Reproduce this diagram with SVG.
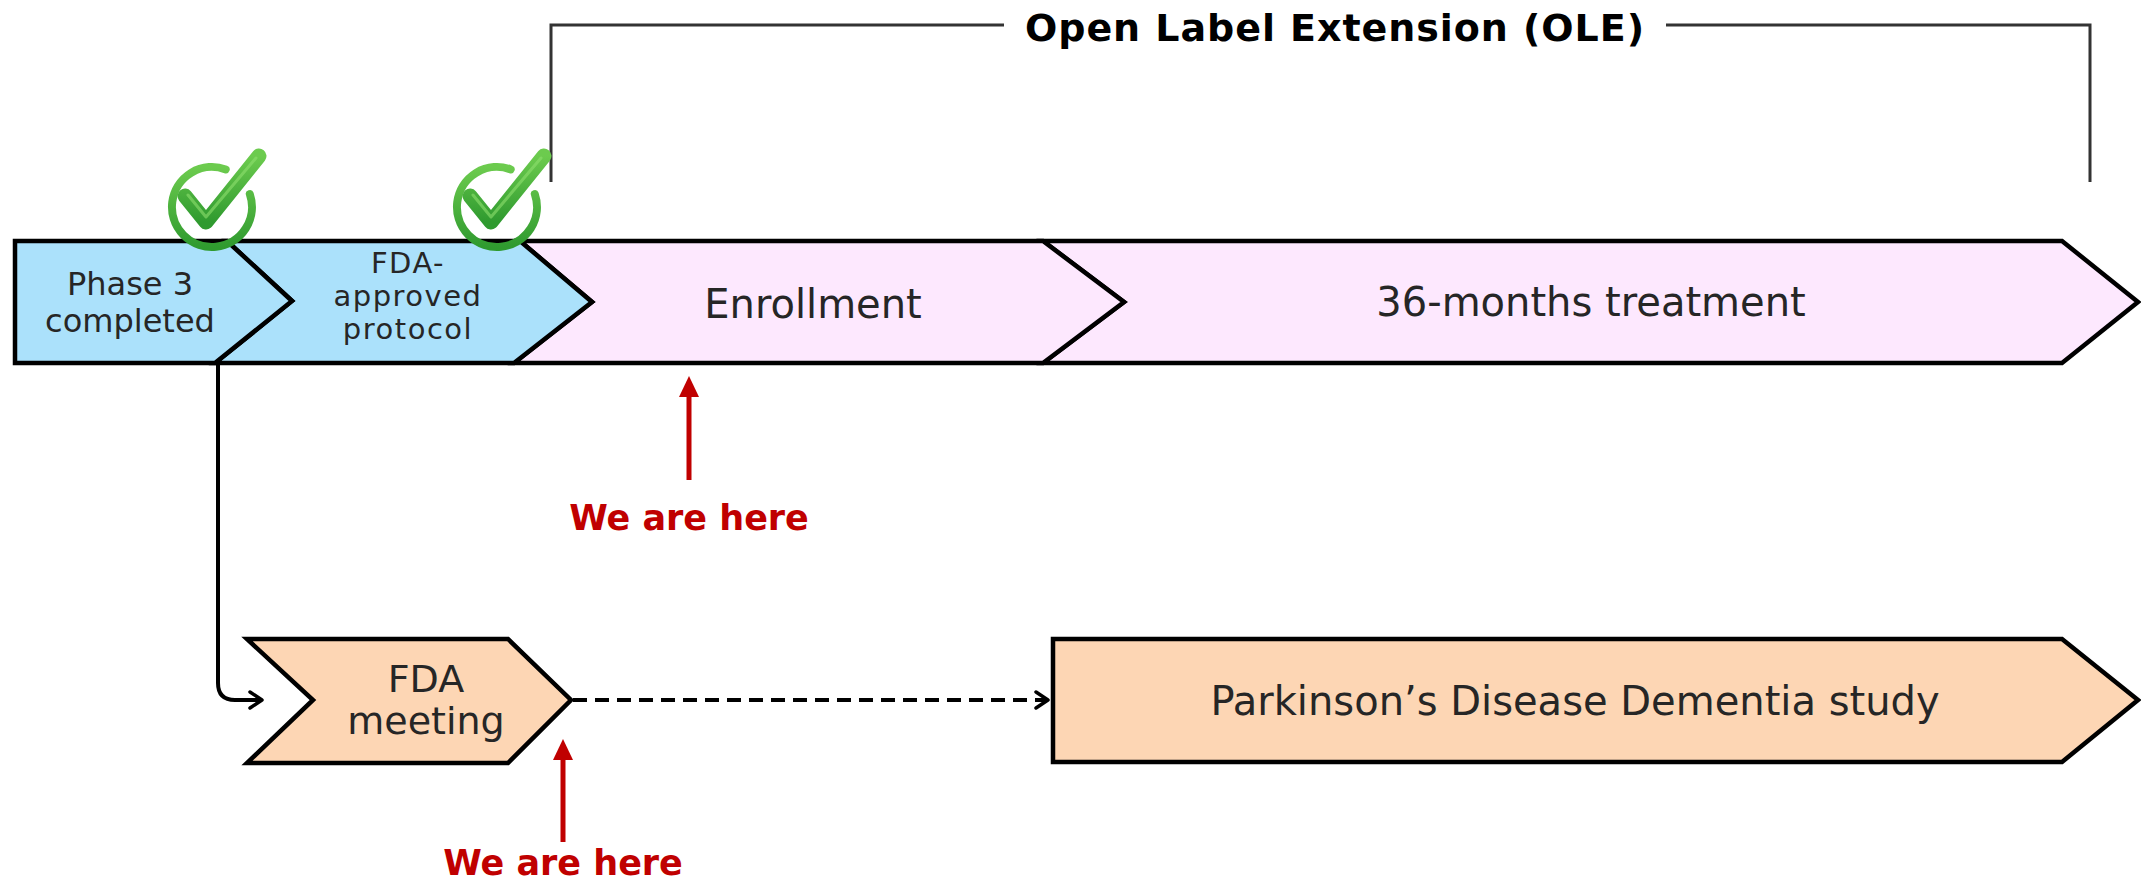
<svg xmlns="http://www.w3.org/2000/svg" width="2141" height="881" viewBox="0 0 2141 881">
  <style>
    .box { stroke: #000; stroke-width: 4.5; stroke-linejoin: miter; }
    .blue { fill: #ABE1FB; }
    .pink { fill: #FDE8FE; }
    .peach { fill: #FDD6B4; }
    .lbl { font-family: "DejaVu Sans", "Open Sans", sans-serif; fill: #262626; text-anchor: middle; }
    .here { font-family: "DejaVu Sans", "Liberation Sans", sans-serif; font-weight: bold; fill: #C00000; font-size: 35px; text-anchor: middle; }
    .bracket { fill: none; stroke: #333; stroke-width: 3; }
    .conn { fill: none; stroke: #000; stroke-width: 4; }
    .red { stroke: #C00000; stroke-width: 5; fill: none; }
  </style>
  <defs>
    <linearGradient id="gck" x1="0" y1="0" x2="0" y2="1">
      <stop offset="0" stop-color="#6CCB4E"/>
      <stop offset="1" stop-color="#2F9A2F"/>
    </linearGradient>
    <marker id="openArrow" viewBox="0 0 16 20" refX="14" refY="10" markerWidth="16" markerHeight="20" markerUnits="userSpaceOnUse" orient="auto">
      <path d="M2,2 L14,10 L2,18" fill="none" stroke="#000" stroke-width="3.5" stroke-linejoin="round" stroke-linecap="round"/>
    </marker>
    <g id="check">
      <path d="M13.7,-37.6 A40,40 0 1 0 37.8,-13" fill="none" stroke="url(#gck)" stroke-width="8" stroke-linecap="round"/>
      <path d="M-27,-11 L-6,15 L47,-51" fill="none" stroke="url(#gck)" stroke-width="15" stroke-linecap="round" stroke-linejoin="round"/>
      <path d="M-24,-12 L-6,10 L44,-49" fill="none" stroke="#8EE06E" stroke-width="3" stroke-linecap="round" stroke-linejoin="round" opacity="0.6"/>
    </g>
  </defs>

  <g id="ole-bracket">
    <path class="bracket" d="M551,182 L551,25 L1004,25"/>
    <path class="bracket" d="M1666,25 L2090,25 L2090,182"/>
    <text x="1025" y="41" font-family="DejaVu Sans, Liberation Sans, sans-serif" font-weight="bold" font-size="38" fill="#000" textLength="619" lengthAdjust="spacing">Open Label Extension (OLE)</text>
  </g>

  <g id="node-36months">
    <path class="box pink" d="M1043,241 L2062,241 L2138,302 L2062,363 L1043,363 L1124,302 Z"/>
    <text class="lbl" x="1591" y="316" font-size="40">36-months treatment</text>
  </g>
  <g id="node-enrollment">
    <path class="box pink" d="M520,241 L1043,241 L1124,302 L1043,363 L514,363 L592,302 Z"/>
    <text class="lbl" x="813" y="318" font-size="40">Enrollment</text>
  </g>
  <g id="node-fda-approved">
    <path class="box blue" d="M227,241 L520,241 L592,302 L514,363 L215,363 L292,301 Z"/>
    <text class="lbl" x="408" y="273" font-size="29" letter-spacing="1.5">FDA-</text>
    <text class="lbl" x="408" y="306" font-size="29" letter-spacing="1.5">approved</text>
    <text class="lbl" x="408" y="339" font-size="29" letter-spacing="1.5">protocol</text>
  </g>
  <g id="node-phase3">
    <path class="box blue" d="M15,241 L227,241 L292,301 L215,363 L15,363 Z"/>
    <text class="lbl" x="130" y="295" font-size="32">Phase 3</text>
    <text class="lbl" x="130" y="332" font-size="32">completed</text>
  </g>

  <g id="checks">
    <use href="#check" transform="translate(212,207)"/>
    <use href="#check" transform="translate(497,207)"/>
  </g>

  <g id="node-fda-meeting">
    <path class="box peach" d="M247,639 L508,639 L571,700 L508,763 L247,763 L313,700 Z"/>
    <text class="lbl" x="426" y="692" font-size="38">FDA</text>
    <text class="lbl" x="426" y="734" font-size="38">meeting</text>
  </g>
  <g id="node-pdd">
    <path class="box peach" d="M1053,639 L2062,639 L2138,700 L2062,762 L1053,762 Z"/>
    <text class="lbl" x="1575" y="715" font-size="40">Parkinson’s Disease Dementia study</text>
  </g>

  <g id="connectors">
    <path class="conn" d="M218,363 L218,683 Q218,700 235,700 L262,700" marker-end="url(#openArrow)"/>
    <path class="conn" d="M573,700 L1048,700" stroke-dasharray="14 8" marker-end="url(#openArrow)"/>
    <line class="red" x1="689" y1="480" x2="689" y2="392"/>
    <path d="M689,376 L699,397 L679,397 Z" fill="#C00000"/>
    <line class="red" x1="563" y1="842" x2="563" y2="755"/>
    <path d="M563,739 L573,760 L553,760 Z" fill="#C00000"/>
  </g>

  <g id="labels">
    <text class="here" x="689" y="530">We are here</text>
    <text class="here" x="563" y="875">We are here</text>
  </g>
</svg>
